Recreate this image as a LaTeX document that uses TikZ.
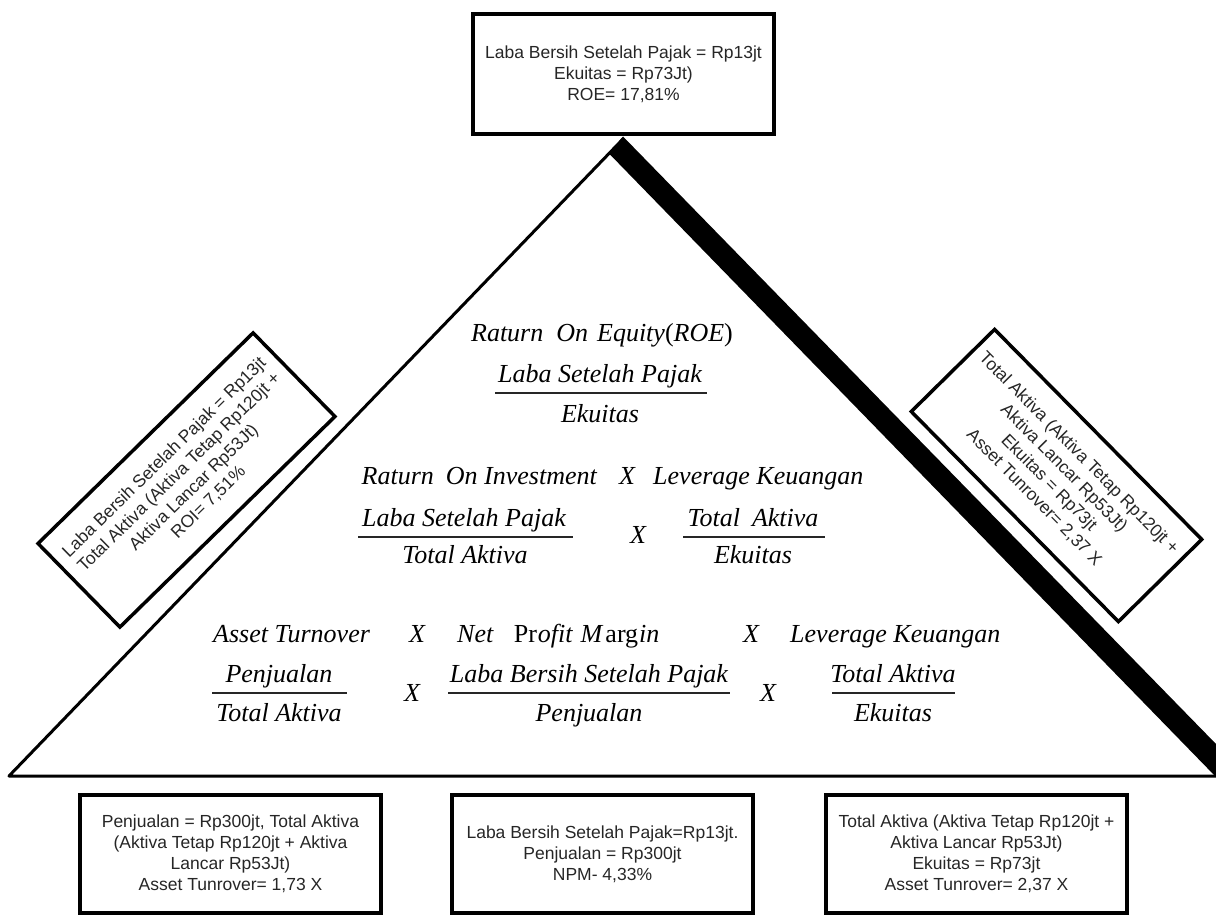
\documentclass[tikz,border=0pt]{standalone}
\usepackage{fontspec}
\setmainfont{Liberation Serif}
\setsansfont{Liberation Sans}
\begin{document}
\begin{tikzpicture}[x=1pt,y=-1pt,
  infobox/.style={draw=black, line width=3.5pt, inner sep=0pt, align=center,
    text=black!85, minimum width=301pt, minimum height=118pt,
    font=\sffamily\fontsize{17.5}{21}\selectfont},
  ftext/.style={font=\itshape\fontsize{26}{30}\selectfont, inner sep=0pt, anchor=base},
  fbar/.style={line width=2.5pt, draw=black!85},
  edgeline/.style={line width=3pt, line cap=round, line join=round}]
\useasboundingbox (0,0) rectangle (1216,917);

% triangle
\coordinate (apex) at (623,139);
\coordinate (bl) at (9,776);
\coordinate (br) at (1216,776);
\draw[edgeline] (apex) -- (bl) -- (br);
\fill[black] (623,136.5) -- (1216,744) -- (1216,777) -- (609,153.5) -- cycle;

% top box
\node[infobox, minimum height=120pt] (roe) at (623.5,74)
  {Laba Bersih Setelah Pajak = Rp13jt\\ Ekuitas = Rp73Jt)\\ ROE= 17,81\%};

% rotated boxes
\node[infobox, minimum height=117pt, rotate=44.4] (roi) at (186.5,480)
  {Laba Bersih Setelah Pajak = Rp13jt\\ Total Aktiva (Aktiva Tetap Rp120jt +\\ Aktiva Lancar Rp53Jt)\\ ROI= 7,51\%};
\node[infobox, minimum width=295pt, minimum height=117pt, rotate=-45.4] (lev) at (1056.5,475.5)
  {Total Aktiva (Aktiva Tetap Rp120jt +\\ Aktiva Lancar Rp53Jt)\\ Ekuitas = Rp73jt\\ Asset Tunrover= 2,37 X};

% bottom boxes
\node[infobox] (ato) at (230.5,854)
  {Penjualan = Rp300jt, Total Aktiva\\ (Aktiva Tetap Rp120jt + Aktiva\\ Lancar Rp53Jt)\\ Asset Tunrover= 1,73 X};
\node[infobox] (npm) at (602.5,854)
  {Laba Bersih Setelah Pajak=Rp13jt.\\ Penjualan = Rp300jt\\ NPM- 4,33\%};
\node[infobox] (lk) at (976.5,854)
  {Total Aktiva (Aktiva Tetap Rp120jt +\\ Aktiva Lancar Rp53Jt)\\ Ekuitas = Rp73jt\\ Asset Tunrover= 2,37 X};

% row 1
\node[ftext] (r1t) at (602,342) {Raturn\hspace{13pt}On\hspace{9pt}Equity\textup{(}ROE\textup{)}};
\node[ftext] (r1n) at (600,382) {Laba Setelah Pajak};
\draw[fbar] (495,393) -- (707,393);
\node[ftext] (r1d) at (600,422) {Ekuitas};

% row 2
\node[ftext, anchor=base east] (r2a) at (597,484) {Raturn\hspace{12pt}On Investment};
\node[ftext] (r2x) at (627,484) {X};
\node[ftext, anchor=base west] (r2b) at (653,484) {Leverage Keuangan};
\node[ftext] (r2n1) at (464,526) {Laba Setelah Pajak};
\draw[fbar] (358,537) -- (573,537);
\node[ftext] (r2d1) at (465,563) {Total Aktiva};
\node[ftext] (r2x2) at (638,543) {X};
\node[ftext] (r2n2) at (753,526) {Total\hspace{12pt}Aktiva};
\draw[fbar] (683,537) -- (825,537);
\node[ftext] (r2d2) at (753,563) {Ekuitas};

% row 3
\node[ftext, anchor=base west] (r3a) at (213,642) {Asset Turnover};
\node[ftext] (r3x1) at (417,642) {X};
\node[ftext, anchor=base west] (r3b) at (457,642)
  {Net\hspace{20pt}\textup{Pr}\hspace{1pt}ofit\hspace{8pt}M\hspace{2pt}\textup{arg}\hspace{1pt}in};
\node[ftext] (r3x2) at (751,642) {X};
\node[ftext, anchor=base west] (r3c) at (790,642) {Leverage Keuangan};

\node[ftext] (r3n1) at (279,682) {Penjualan};
\draw[fbar] (212,693) -- (347,693);
\node[ftext] (r3d1) at (279,721) {Total Aktiva};
\node[ftext] (r3x3) at (412,701) {X};
\node[ftext] (r3n2) at (589,682) {Laba Bersih Setelah Pajak};
\draw[fbar] (448,693) -- (730,693);
\node[ftext] (r3d2) at (589,721) {Penjualan};
\node[ftext] (r3x4) at (768,701) {X};
\node[ftext] (r3n3) at (893,682) {Total Aktiva};
\draw[fbar] (832,693) -- (955,693);
\node[ftext] (r3d3) at (893,721) {Ekuitas};
\end{tikzpicture}
\end{document}
